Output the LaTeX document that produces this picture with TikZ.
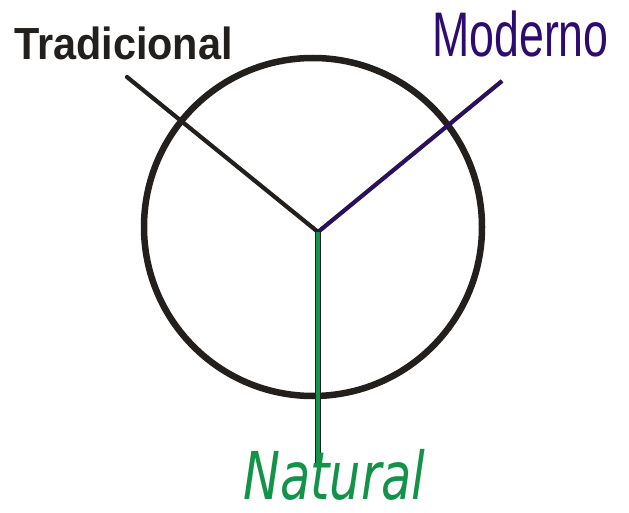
\documentclass[tikz,border=0pt]{standalone}
\usepackage{fontspec}
\setmainfont{Liberation Sans}
\newfontfamily\natfont{DejaVu Sans}
\definecolor{ink}{HTML}{231F1C}
\definecolor{purp}{HTML}{2E0B6E}
\definecolor{grn}{HTML}{13924A}
\begin{document}
\begin{tikzpicture}[x=1pt,y=-1pt,
  lbl/.style={inner sep=0pt,anchor=base west,text depth=0pt},
  spoke/.style={line width=4.2pt,ink,line cap=round}]
\useasboundingbox (0,0) rectangle (629,513);
\coordinate (c) at (318,232);
\coordinate (tl) at (127,77);
\coordinate (tr) at (502,81);
\coordinate (bt) at (318,463);
\node[circle,draw=ink,line width=6.5pt,minimum size=338pt,inner sep=0pt] (ring) at (313,227) {};
\draw[spoke] (tl) -- (c);
\draw[line width=4.2pt,ink] (tr) -- (c);
\draw[line width=2.8pt,purp] (tr) -- (c);
\draw[line width=6.5pt,ink] (c) -- (bt);
\draw[line width=4.6pt,grn] (c) -- (bt);
\node[lbl,font=\bfseries\fontsize{45}{50}\selectfont,xscale=0.92,ink] (trad) at (14,60) {Tradicional};
\node[lbl,font=\fontsize{63}{70}\selectfont,xscale=0.71,purp] (mod) at (432,57) {Moderno};
\node[lbl,font=\natfont\itshape\fontsize{66}{72}\selectfont,xscale=0.75,grn] (nat) at (243,499) {Natural};
\end{tikzpicture}
\end{document}
